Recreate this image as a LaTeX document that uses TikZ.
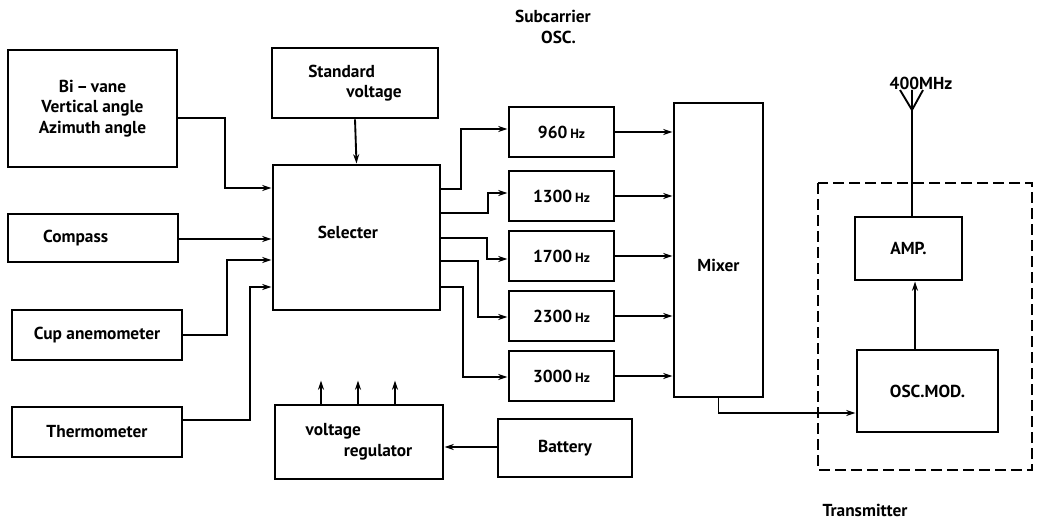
\documentclass[tikz,border=0pt]{standalone}
\usepackage{fontspec}
\setmainfont{PT Sans}
\usepackage{tikz}
\usetikzlibrary{arrows.meta,calc,positioning}

\newcommand{\hzlabel}[1]{#1\,{\fontsize{10}{12}\selectfont Hz}}

\begin{document}
\begin{tikzpicture}[>={Stealth[length=7pt,width=4.5pt]},x=0.75pt,y=-0.75pt,
  every node/.style={font=\bfseries\fontsize{13}{15.5}\selectfont},
  blk/.style={draw,line width=2.2pt,inner sep=0pt,align=center},
  hzbox/.style={blk,minimum width=78.75pt,minimum height=37.5pt},
  wire/.style={line width=1.4pt}]
\useasboundingbox (0,0) rectangle (1042,527);
\node[blk,minimum width=126.75pt,minimum height=87.75pt] (bivane) at (92.5,108.5) {Bi\,--\,vane\\Vertical angle\\Azimuth angle};
\node[blk,minimum width=127.5pt,minimum height=36pt] (compass) at (93,238) {\hspace*{-2em}Compass};
\node[blk,minimum width=127.5pt,minimum height=37.5pt] (cup) at (97,335) {Cup anemometer};
\node[blk,minimum width=127.5pt,minimum height=37.5pt] (thermo) at (97,432) {Thermometer};
\node[blk,minimum width=124.5pt,minimum height=52.5pt,align=left] (stdv) at (355,83) {Standard\\\hspace*{2.2em}voltage};
\node[blk,minimum width=125.25pt,minimum height=108.75pt] (sel) at (356.5,237.5) {\raisebox{8pt}{Selecter}\hspace*{1em}};
\node[hzbox] (f960) at (561.5,132) {\hzlabel{960}};
\node[hzbox] (f1300) at (561.5,196) {\hzlabel{1300}};
\node[hzbox] (f1700) at (561.5,256) {\hzlabel{1700}};
\node[hzbox] (f2300) at (561.5,316) {\hzlabel{2300}};
\node[hzbox] (f3000) at (561.5,376) {\hzlabel{3000}};
\node[blk,minimum width=66.75pt,minimum height=220.5pt] (mixer) at (718.5,250) {\raisebox{-32pt}{Mixer}};
\node[blk,minimum width=80.25pt,minimum height=47.25pt] (amp) at (908.5,248.5) {AMP.};
\node[blk,minimum width=105.75pt,minimum height=61.5pt] (oscmod) at (927.5,391) {OSC.MOD.};
\node[blk,minimum width=126pt,minimum height=55.5pt,align=left] (vreg) at (359,442) {voltage\\\hspace*{2.2em}regulator};
\node[blk,minimum width=100.5pt,minimum height=43.5pt] (battery) at (565,448) {Battery};
\node[align=left] (subosc) at (553,27) {Subcarrier\\\hspace*{1.5em}OSC.};
\node (trans) at (865,510) {Transmitter};
\node (mhz) at (921,83) {400MHz};
\draw[line width=1.6pt,dash pattern=on 8pt off 4pt] (818,183) rectangle (1032,470);
\coordinate (ant) at (912,110);
% inputs
\draw[wire,->] (bivane.east |- 0,118) -| (225,188) -- (sel.west |- 0,188);
\draw[wire,->] (compass.east |- 0,239) -- (sel.west |- 0,239);
\draw[wire,->] (cup.east |- 0,335) -| (227,260) -- (sel.west |- 0,260);
\draw[wire,->] (thermo.east |- 0,420) -| (250,287) -- (sel.west |- 0,287);
\draw[wire,->] (stdv.south) -- (sel.north);
% subcarriers
\draw[wire,->] (sel.east |- 0,189) -| (461,129) -- (f960.west |- 0,129);
\draw[wire,->] (sel.east |- 0,213) -| (488,193) -- (f1300.west |- 0,193);
\draw[wire,->] (sel.east |- 0,238) -| (487,259) -- (f1700.west |- 0,259);
\draw[wire,->] (sel.east |- 0,261) -| (478,317) -- (f2300.west |- 0,317);
\draw[wire,->] (sel.east |- 0,287) -| (463,377) -- (f3000.west |- 0,377);
\foreach \f in {f960,f1300,f1700,f2300,f3000}
  \draw[wire,->] (\f.east) -- (mixer.west |- \f.east);
% transmitter
\draw[wire,->] (mixer.south) |- (oscmod.west |- 0,413);
\draw[wire,->] (oscmod.north -| 915,0) -- (amp.south -| 915,0);
\draw[wire] (amp.north -| ant) -- (ant);
\draw[wire] (ant) -- ++(-12,-20) (ant) -- ++(11,-20) (ant) -- ++(0,-20);
% power
\draw[wire,->] (battery.west |- 0,447) -- (vreg.east |- 0,447);
\foreach \x in {321,358,395}
  \draw[wire,->] (vreg.north -| \x,0) -- ++(0,-23);
\end{tikzpicture}
\end{document}
